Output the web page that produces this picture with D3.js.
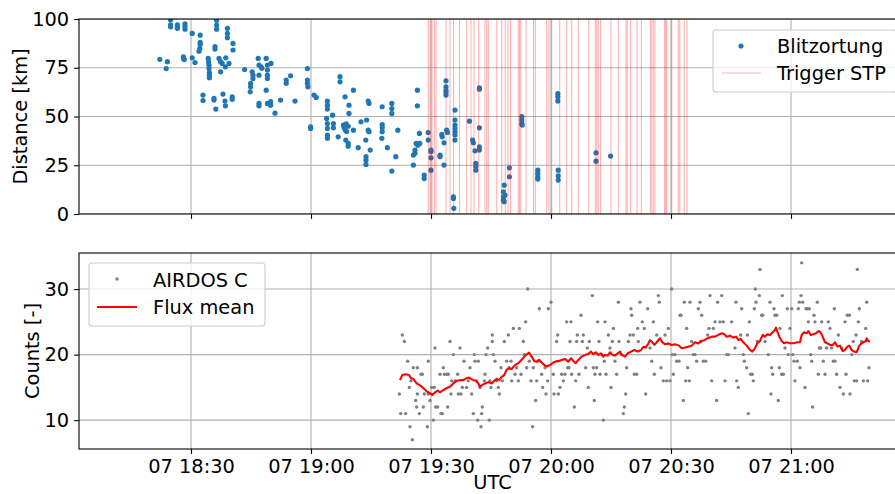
<!DOCTYPE html>
<html>
<head>
<meta charset="utf-8">
<script src="https://cdn.jsdelivr.net/npm/d3@7"></script>
<style>
  body { margin: 0; background: #fff; }
  svg text { font-family: "DejaVu Sans", sans-serif; }
</style>
</head>
<body>
<svg id="chart" width="895" height="494"></svg>
<script>
// ---- time base: all times are minutes after 07 18:00 UTC ----
const T0 = Date.UTC(2021, 5, 7, 18, 0, 0);
const toDate = m => new Date(T0 + m * 60000);

const timeRange = [2, 208.75];                // visible window in minutes
const timeTicks = [30, 60, 90, 120, 150, 180]; // 18:30 ... 21:00
const distTicks = [0, 25, 50, 75, 100];
const countTicks = [10, 20, 30];

// Lightning detections (Blitzortung): [minute, distance km]
const strikes = [
  [22.2,79.3],[24.1,78.1],[23.8,74.6],
  [24.9,99.6],[24.9,97.0],[24.9,96.0],
  [26.6,97.0],[26.6,95.8],[26.6,95.2],
  [28.5,97.5],[28.5,96.2],[28.5,94.8],
  [28.1,80.6],[28.2,79.6],[28.3,79.2],
  [30.3,92.6],[30.3,80.1],[31.0,77.7],
  [32.3,91.7],[32.3,88.0],[32.3,87.0],[32.2,84.9],[32.0,83.5],
  [33.0,61.0],[33.0,58.2],
  [34.3,79.8],[34.4,78.0],[34.5,76.4],[34.5,74.6],[34.6,72.5],[34.6,71.2],[34.6,69.9],
  [35.75,58.4],[35.75,59.3],[36.2,53.8],
  [36.0,85.8],[36.0,84.6],
  [36.4,99.4],[36.4,96.9],[36.4,94.8],
  [37.0,79.8],[37.4,78.1],[37.8,77.2],[38.6,75.5],[37.4,72.9],
  [38.0,61.5],[38.5,57.9],[38.6,55.5],
  [39.1,95.2],[39.1,92.6],[39.1,90.4],
  [39.5,77.2],[40.5,87.5],[40.5,84.1],[40.3,60.1],[40.3,58.8],[38.7,80.1],
  [43.4,74.1],
  [45.3,72.9],[45.5,71.2],[45.5,69.5],
  [44.9,67.0],[44.9,65.2],[44.8,62.7],
  [46.8,79.8],[47.0,76.4],[47.0,71.2],[47.5,75.5],[47.7,74.8],
  [48.8,79.8],[49.1,76.4],[49.1,73.8],[49.1,71.2],[49.1,69.5],[50.0,77.2],
  [48.8,63.5],
  [47.0,56.7],[47.0,55.5],
  [49.1,56.7],[49.9,57.6],[49.9,55.8],
  [51.0,51.7],[52.4,58.4],
  [53.8,68.7],[53.8,67.0],[54.9,70.9],[56.0,57.9],
  [59.1,74.6],[59.1,68.7],[59.1,67.0],[59.2,65.2],
  [60.75,61.0],[61.3,59.8],
  [59.9,44.7],[59.9,43.9],
  [64.1,57.9],[64.1,55.8],[64.1,53.8],[63.9,49.0],[64.1,46.4],[64.1,43.9],[64.1,40.5],[64.1,38.8],
  [65.4,50.7],[65.6,46.4],[65.6,44.2],
  [67.25,70.4],[67.25,67.8],[66.8,39.6],
  [68.5,60.1],[69.5,55.8],[69.5,51.6],
  [68.1,45.6],[68.3,44.2],[68.6,43.0],[68.9,42.3],[69.3,45.0],[68.8,46.2],
  [68.7,37.9],[69.3,36.2],[69.3,34.8],
  [70.6,63.5],[70.6,43.0],[71.8,34.0],[72.5,47.3],[73.9,48.2],[73.7,37.9],
  [73.75,29.4],[73.75,27.6],[73.75,25.4],
  [74.3,57.9],[74.5,56.7],[74.3,43.0],[74.5,42.2],[74.8,32.8],
  [77.8,55.0],[77.8,45.9],[77.8,44.2],[77.8,42.2],[77.7,38.8],[79.1,34.0],
  [80.2,56.7],[80.2,54.1],[80.2,51.6],[80.2,22.0],[81.2,29.4],[81.7,43.0],
  [85.6,30.2],[85.6,25.1],[86.6,63.5],[86.6,55.5],
  [86.3,36.2],[86.7,35.3],[87.2,36.2],[86.0,32.8],[86.0,31.1],[87.1,41.3],
  [88.3,20.0],[88.3,18.2],
  [89.3,41.8],[89.3,37.9],[90.0,32.8],[90.0,32.0],[90.0,28.8],[90.0,22.5],
  [92.25,30.2],[92.25,29.4],[92.7,40.8],[92.8,39.6],[93.25,36.5],[93.25,25.1],
  [93.75,68.3],[93.75,65.2],[93.75,63.5],[93.75,62.3],[93.75,61.0],
  [93.9,43.0],[94.1,41.8],
  [95.6,8.8],[95.6,8.0],[95.7,2.9],
  [96.0,53.3],[96.0,48.2],[96.0,45.6],[96.0,43.9],[96.0,42.2],[96.0,40.5],[96.0,37.9],
  [99.6,47.6],[100.4,37.9],[100.6,36.5],[101.0,32.4],
  [101.2,26.0],[101.2,24.2],[101.2,22.5],
  [102.1,64.7],[102.1,64.0],[102.1,44.2],[102.1,34.5],[102.1,32.8],
  [108.3,14.8],[108.1,11.4],[108.1,8.8],[108.5,9.7],[108.1,7.1],[108.3,6.3],
  [109.6,23.7],[109.6,19.1],
  [112.7,49.9],[112.7,48.2],[112.7,46.4],[112.8,45.6],
  [116.7,22.5],[116.7,20.8],[116.7,19.1],[116.7,17.9],
  [121.7,61.8],[121.7,60.1],[121.7,57.9],
  [121.8,22.5],[121.8,19.6],[121.8,17.4],
  [131.25,31.4],[131.25,27.1],[134.9,29.7]
];

// STP trigger times (minutes)
const triggers = [
  89.33,89.75,90.25,90.83,91.25,93.75,94.75,95.63,97.13,98.93,100.0,100.75,101.93,
  103.5,103.93,104.33,106.43,107.68,108.58,109.25,109.88,111.83,112.13,112.43,113.75,
  115.63,116.08,118.93,119.5,120.18,122.18,123.93,125.18,126.83,129.43,131.08,131.43,
  131.83,132.38,135.0,136.83,138.75,139.08,139.88,141.5,142.58,144.83,145.18,145.58,
  146.0,148.38,148.68,148.93,150.18,151.83,152.2,153.3,154.0
];

// AIRDOS C counts: [minute, counts]
const counts = [
  [82.08,14],[82.42,11],[82.83,23],[83.33,22],[83.67,11],[84.17,19],[84.58,15],[84.75,9],
  [85.0,16],[85.33,7],[85.58,18],[86.17,13],[86.58,18],[86.58,14],[86.42,12],[87.08,11],
  [87.5,17],[87.83,17],[88.08,12],[88.33,14],[89.08,9],[89.33,19],[89.33,14],[89.75,13],
  [90.17,15],[90.58,10],[90.83,15],[91.0,21],[91.17,12],[91.67,12],[92.25,17],[92.5,11],
  [92.83,11],[93.08,18],[93.33,17],[93.92,17],[94.17,12],[94.33,17],[94.75,22],[95.0,14],
  [95.17,16],[95.58,20],[96.0,16],[96.67,17],[96.83,14],[97.25,21],[97.5,14],[97.83,15],
  [98.25,19],[98.92,15],[99.33,16],[99.75,18],[100.17,14],[100.58,11],[100.83,20],[101.0,19],
  [101.42,16],[101.67,10],[101.83,19],[102.25,15],[102.5,9],[102.67,11],[102.83,12],[103.33,16],
  [103.5,17],[103.75,20],[104.17,21],[104.58,10],[104.75,16],[105.0,15],[105.33,23],[105.33,22],
  [105.58,20],[106.0,19],[106.42,16],[106.83,15],[107.08,14],[107.5,18],[107.83,16],[108.33,22],
  [108.92,19],[109.33,23],[109.5,18],[110.0,19],[110.17,16],[110.58,24],[111.0,17],[111.42,18],
  [111.83,16],[112.08,24],[112.5,17],[113.08,22],[113.33,20],[113.67,25],[113.92,18],[114.17,30],
  [114.58,19],[115.0,16],[115.42,9],[115.58,18],[116.17,13],[116.42,16],[116.83,19],[117.08,27],
  [117.67,17],[117.92,15],[118.5,18],[118.75,14],[119.17,16],[119.33,27],[120.0,28],[120.58,17],
  [120.75,14],[121.42,22],[121.67,23],[121.83,14],
  [122.25,15],[122.67,17],[123.08,16],[123.5,17],[123.92,25],[124.17,18],[124.5,18],[124.75,22],
  [125.0,25],[125.17,17],[125.83,12],[126.17,16],[126.42,22],[126.58,23],[127.0,17],[127.5,26],
  [127.83,22],[128.08,23],[128.67,18],[129.08,21],[129.33,15],[129.58,22],[130.33,29],[130.58,18],
  [130.83,13],[131.0,17],[131.42,18],[131.67,25],[132.0,22],[132.25,17],[132.67,20],[133.08,10],
  [133.33,19],[133.5,25],[133.75,17],[134.33,23],[134.75,21],[135.0,15],[135.33,22],[135.58,24],
  [136.0,19],[136.42,17],[136.83,28],[137.0,22],[137.67,20],[138.08,11],[138.33,12],[138.67,14],
  [138.92,18],[139.33,22],[139.75,23],[140.0,27],[140.17,26],[140.58,23],[140.83,17],[141.42,17],
  [141.67,24],[141.83,22],[142.25,28],[142.83,25],[143.33,24],[143.67,14],[144.17,27],[144.75,21],
  [145.17,19],[145.58,25],[145.83,17],[146.42,23],[146.83,29],[147.08,28],[147.5,18],[148.08,16],
  [148.5,23],[148.92,16],[149.33,24],[149.75,16],[150.17,30],[150.33,20],[150.58,17],[151.0,20],
  [151.42,19],[152.0,19],[152.25,26],[152.5,26],[153.08,13],[153.33,28],[153.67,16],[153.92,24],
  [154.17,18],[154.58,16],[154.75,28],[155.17,22],[155.58,20],[156.0,20],[156.42,19],[156.83,27],
  [157.25,28],[157.5,22],[157.67,26],[158.08,19],[158.67,19],[159.17,23],[159.5,24],[159.75,29],
  [160.17,16],[160.58,24],[161.0,25],[161.42,13],[161.67,28],[162.25,25],[162.67,29],[163.08,25],
  [163.5,16],
  [163.92,20],[164.33,20],[165.17,25],[166.0,21],[166.25,28],[166.42,16],[166.83,15],[167.42,23],
  [167.67,27],[168.08,20],[168.33,19],[168.92,18],[169.08,23],[169.33,11],[169.58,25],[169.92,17],
  [170.33,17],[170.58,16],[170.83,27],[171.08,30],[171.25,28],[171.58,22],[172.08,29],[172.25,33],
  [172.67,26],[172.92,26],[173.5,22],[174.33,20],[174.75,28],[175.0,14],[175.17,18],[175.42,17],
  [175.75,27],[176.0,26],[176.42,26],[176.83,13],[177.08,18],[177.25,24],[177.67,17],[177.83,29],
  [178.08,17],[178.5,21],[179.08,27],[179.33,20],[179.75,24],[180.17,27],[180.42,20],[180.75,19],
  [181.0,16],[181.58,19],[181.83,27],[182.08,28],[182.25,18],[182.5,29],[182.67,34],[182.92,28],
  [183.5,15],[183.75,27],[184.08,27],[184.33,25],[184.58,27],[184.92,20],[185.17,19],[185.42,12],
  [185.75,26],[186.0,25],[186.58,28],[186.83,17],[187.08,21],[187.42,21],[187.67,25],[188.08,19],
  [188.5,17],[188.92,21],[189.33,25],[189.75,24],[190.17,21],[190.58,19],[190.83,27],[191.0,19],
  [191.42,17],[191.83,23],[192.25,15],[192.67,21],[193.08,14],[193.5,25],[193.75,17],[194.08,26],
  [194.58,26],[194.75,14],[195.17,20],[195.58,22],[195.83,16],[196.25,23],[196.42,16],[196.58,33],
  [196.83,25],[197.08,27],[197.67,22],[198.08,16],[198.67,24],[198.92,28],[199.17,16],[199.5,18]
];

// Flux mean: [minute, counts]
const fluxMean = [
  [82.25,16.1],[82.83,16.9],[83.67,17.0],[84.5,16.9],[85.0,16.4],[85.58,16.3],[86.42,15.6],
  [87.25,15.3],[88.08,14.9],[88.92,14.4],[89.75,14.1],[90.33,13.85],[91.0,14.25],[91.67,14.5],
  [92.25,14.25],[93.08,14.6],[93.92,14.9],[94.75,15.1],[95.58,15.6],[96.42,16.0],[97.25,16.1],
  [98.08,16.1],[98.92,16.4],[99.5,16.5],[100.0,16.3],[100.58,16.1],[101.17,16.0],[101.83,15.6],
  [102.25,15.1],[102.67,15.3],[103.5,15.6],[104.33,15.8],[105.17,15.6],[105.83,16.0],[106.42,16.3],
  [107.0,16.1],[107.67,16.6],[108.33,16.9],[108.92,17.7],[109.5,17.9],[110.17,17.8],[111.0,18.4],
  [111.83,18.7],[112.67,19.2],[113.33,19.7],[113.92,20.05],[114.5,20.3],[115.17,19.7],[115.83,19.0],
  [116.42,18.9],[117.0,19.2],[117.67,18.8],[118.33,18.4],[118.92,18.2],[119.75,18.4],[120.58,18.8],
  [121.42,19.0],[121.83,19.0],[122.67,19.19],[123.5,19.34],[124.33,18.93],[125.0,19.44],[125.58,19.04],
  [126.17,18.68],[126.83,19.19],[127.67,19.7],[128.5,19.95],[129.33,20.1],[130.0,20.46],[130.58,20.05],
  [131.17,20.36],[131.83,19.95],[132.5,20.2],[133.08,19.7],[133.5,19.95],[134.17,19.85],[134.75,20.36],
  [135.33,19.95],[136.0,19.85],[136.67,20.2],[137.25,20.46],[137.67,19.95],[138.5,19.7],[139.17,20.2],
  [140.0,20.46],[140.83,20.7],[141.67,20.46],[142.5,20.7],[143.08,21.2],[143.67,21.07],[144.33,21.7],
  [144.75,22.2],[145.33,21.88],[145.83,21.47],[146.42,21.88],[147.25,22.5],[147.83,21.88],[148.5,21.57],
  [149.33,21.7],[150.17,21.47],[151.0,21.57],[152.0,21.37],[152.67,20.96],[153.5,21.07],[154.33,21.2],
  [155.17,21.37],[156.0,21.88],[156.83,21.7],[157.5,22.08],[158.33,22.2],[159.17,22.5],[160.17,22.74],
  [161.0,22.74],[161.83,23.0],[162.67,23.25],[163.33,23.1],[163.92,22.74],[164.75,22.89],[165.58,22.59],
  [166.25,22.74],[166.83,22.23],[167.42,22.39],[168.08,21.88],[168.92,21.37],[169.75,20.71],[170.33,20.46],
  [171.0,20.96],[171.58,21.73],[172.25,22.08],[172.92,23.0],[173.5,22.74],[174.08,23.1],[174.75,23.0],
  [175.42,23.4],[176.0,23.76],[176.25,24.11],[176.58,23.5],[177.08,22.74],[177.67,22.08],[178.25,21.73],
  [178.92,21.88],[179.75,21.73],[180.58,21.73],[181.58,21.88],[182.25,21.88],[182.67,23.0],[183.25,23.4],
  [183.92,23.25],[184.33,23.6],[184.92,23.0],[185.58,23.1],[186.25,23.25],[186.83,23.6],[187.42,23.4],
  [187.92,22.74],[188.5,21.88],[189.08,21.73],[189.75,21.47],[190.42,21.47],[191.0,21.88],[191.58,21.22],
  [192.25,21.37],[192.92,20.56],[193.5,20.71],[194.08,21.22],[194.58,21.37],[195.17,20.71],[195.75,20.46],
  [196.42,20.36],[197.08,21.37],[197.67,21.73],[198.08,21.88],[198.75,22.08],[198.92,22.5],[199.33,22.08],
  [199.75,21.98]
];

// ---- layout ----
const FS = 19.4;
const L = 79, R = 906;
const P1 = { top: 19, bottom: 214 };
const P2 = { top: 253, bottom: 449 };
const GRID = "#b0b0b0", SPINE = "#000";

const svg = d3.select("#chart");

const x = d3.scaleUtc().domain(timeRange.map(toDate)).range([L, R]);
const y1 = d3.scaleLinear().domain([0, 100]).range([P1.bottom, P1.top]);
const y2 = d3.scaleLinear().domain([5.6, 35.5]).range([P2.bottom, P2.top]);

const defs = svg.append("defs");
defs.append("clipPath").attr("id", "clip1").append("rect")
  .attr("x", L).attr("y", P1.top).attr("width", R - L).attr("height", P1.bottom - P1.top);
defs.append("clipPath").attr("id", "clip2").append("rect")
  .attr("x", L).attr("y", P2.top).attr("width", R - L).attr("height", P2.bottom - P2.top);

function grid(g, yScale, yTicks, P) {
  g.selectAll(".gx").data(timeTicks).join("line")
    .attr("x1", d => x(toDate(d))).attr("x2", d => x(toDate(d)))
    .attr("y1", P.top).attr("y2", P.bottom)
    .attr("stroke", GRID).attr("stroke-width", 1.1);
  g.selectAll(".gy").data(yTicks).join("line")
    .attr("x1", L).attr("x2", R)
    .attr("y1", d => yScale(d)).attr("y2", d => yScale(d))
    .attr("stroke", GRID).attr("stroke-width", 1.1);
}

function frame(P) {
  svg.append("rect").attr("x", L).attr("y", P.top)
    .attr("width", R - L).attr("height", P.bottom - P.top)
    .attr("fill", "none").attr("stroke", SPINE).attr("stroke-width", 1.1);
}

function styleAxis(g) {
  g.select(".domain").remove();
  g.selectAll(".tick line").attr("stroke", SPINE).attr("stroke-width", 1.1);
  g.selectAll(".tick text").attr("fill", "#000")
    .style("font-size", FS + "px").style("font-family", "DejaVu Sans, sans-serif");
}

// ---- top panel: lightning distance ----
const g1 = svg.append("g");
grid(g1.append("g").attr("clip-path", "url(#clip1)"), y1, distTicks, P1);

const d1 = g1.append("g").attr("clip-path", "url(#clip1)");
d1.selectAll("circle").data(strikes).join("circle")
  .attr("cx", d => x(toDate(d[0]))).attr("cy", d => y1(d[1]))
  .attr("r", 2.6).attr("fill", "#1f77b4");
d1.selectAll("line.trig").data(triggers).join("line").attr("class", "trig")
  .attr("x1", d => x(toDate(d))).attr("x2", d => x(toDate(d)))
  .attr("y1", P1.top).attr("y2", P1.bottom)
  .attr("stroke", "red").attr("stroke-opacity", 0.3).attr("stroke-width", 1.1);

frame(P1);
svg.append("g").attr("transform", `translate(${L},0)`)
  .call(d3.axisLeft(y1).tickValues(distTicks).tickSize(4.9).tickPadding(4.9))
  .call(styleAxis);
svg.append("g").attr("transform", `translate(0,${P1.bottom})`)
  .call(d3.axisBottom(x).tickValues(timeTicks.map(toDate)).tickSize(4.9).tickFormat(""))
  .call(styleAxis);

svg.append("text").attr("transform", `translate(27,${(P1.top + P1.bottom) / 2}) rotate(-90)`)
  .attr("text-anchor", "middle").style("font-size", FS + "px").attr("fill", "#000")
  .text("Distance [km]");

// ---- bottom panel: counts ----
const g2 = svg.append("g");
grid(g2.append("g").attr("clip-path", "url(#clip2)"), y2, countTicks, P2);

const d2 = g2.append("g").attr("clip-path", "url(#clip2)");
d2.selectAll("circle").data(counts).join("circle")
  .attr("cx", d => x(toDate(d[0]))).attr("cy", d => y2(d[1]))
  .attr("r", 1.7).attr("fill", "gray");
d2.append("path").datum(fluxMean)
  .attr("d", d3.line().x(d => x(toDate(d[0]))).y(d => y2(d[1])))
  .attr("fill", "none").attr("stroke", "red").attr("stroke-width", 2.1)
  .attr("stroke-linejoin", "round");

frame(P2);
svg.append("g").attr("transform", `translate(${L},0)`)
  .call(d3.axisLeft(y2).tickValues(countTicks).tickSize(4.9).tickPadding(4.9))
  .call(styleAxis);
svg.append("g").attr("transform", `translate(0,${P2.bottom})`)
  .call(d3.axisBottom(x).tickValues(timeTicks.map(toDate)).tickSize(4.9).tickPadding(4.9)
    .tickFormat(d3.utcFormat("%d %H:%M")))
  .call(styleAxis);

svg.append("text").attr("transform", `translate(39,${(P2.top + P2.bottom) / 2}) rotate(-90)`)
  .attr("text-anchor", "middle").style("font-size", FS + "px").attr("fill", "#000")
  .text("Counts [-]");
svg.append("text").attr("x", (L + R) / 2).attr("y", 489)
  .attr("text-anchor", "middle").style("font-size", FS + "px").attr("fill", "#000")
  .text("UTC");

// ---- legends ----
function legendBox(x0, y0, w, h) {
  svg.append("rect").attr("x", x0).attr("y", y0).attr("width", w).attr("height", h)
    .attr("rx", 3).attr("fill", "#fff").attr("fill-opacity", 0.8)
    .attr("stroke", "#cccccc").attr("stroke-width", 1.1);
}
function legendText(x0, y0, s) {
  svg.append("text").attr("x", x0).attr("y", y0).attr("dy", "0.36em")
    .style("font-size", FS + "px").attr("fill", "#000").text(s);
}

legendBox(713, 30, 183, 62);
svg.append("circle").attr("cx", 741).attr("cy", 46).attr("r", 2.6).attr("fill", "#1f77b4");
legendText(777, 46, "Blitzortung");
svg.append("line").attr("x1", 722).attr("x2", 761).attr("y1", 73).attr("y2", 73)
  .attr("stroke", "red").attr("stroke-opacity", 0.3).attr("stroke-width", 1.1);
legendText(777, 73, "Trigger STP");

legendBox(89, 263, 176, 63);
svg.append("circle").attr("cx", 117).attr("cy", 279).attr("r", 1.7).attr("fill", "gray");
legendText(153, 280, "AIRDOS C");
svg.append("line").attr("x1", 97).attr("x2", 137).attr("y1", 307).attr("y2", 307)
  .attr("stroke", "red").attr("stroke-width", 2.1);
legendText(153, 307, "Flux mean");
</script>
</body>
</html>
